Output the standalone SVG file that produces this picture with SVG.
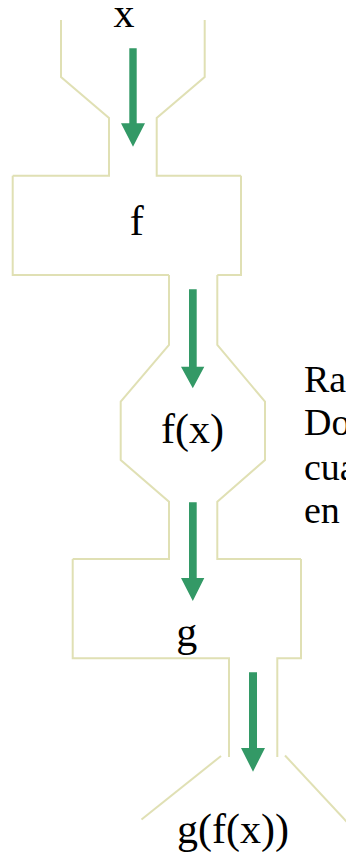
<svg xmlns="http://www.w3.org/2000/svg" width="346" height="858" viewBox="0 0 346 858">
<style>
.ln{fill:none;stroke:#e0e0b4;stroke-width:2;stroke-linejoin:miter}
.ar{fill:#339966}
text{font-family:'Liberation Serif','Times New Roman',serif;fill:#000}
.t{font-size:42px;text-anchor:middle}
.side{font-size:38px}
</style>
<rect width="346" height="858" fill="#fff"/>
<g id="input">
<polyline class="ln" points="61,20 61,77 109,118 109,175.7 12.7,175.7"/>
<polyline class="ln" points="204.7,20 204.7,77 156.7,118 156.7,175.7 241,175.7"/>
<text class="t" x="124" y="27">x</text>
</g>
<g id="f">
<polyline class="ln" points="12.7,175.7 12.7,275 169,275"/>
<polyline class="ln" points="241,175.7 241,275 217.3,275"/>
<text class="t" x="136.7" y="235">f</text>
</g>
<g id="fx">
<polyline class="ln" points="169,275 169,345 120.7,401.7 120.7,460 169,501.7 169,559 72.7,559"/>
<polyline class="ln" points="217.3,275 217.3,345 265,401.7 265,460 217.3,501.7 217.3,559 301,559"/>
<text class="t" x="192.5" y="443">f(x)</text>
</g>
<g id="g">
<polyline class="ln" points="72.7,559 72.7,658.3 229,658.3 229,757"/>
<polyline class="ln" points="301,559 301,658.3 277.3,658.3 277.3,757"/>
<text class="t" x="186.7" y="646">g</text>
</g>
<g id="output">
<line class="ln" x1="221" y1="756" x2="141.5" y2="819.5"/>
<line class="ln" x1="285" y1="755.5" x2="347" y2="822"/>
<text class="t" x="233" y="843">g(f(x))</text>
</g>
<g id="note">
<text class="side" x="304" y="391.7">Ra</text>
<text class="side" x="304" y="435">Do</text>
<text class="side" x="304" y="480">cua</text>
<text class="side" x="304" y="523">en</text>
</g>
<g id="connectors">
<polygon class="ar" points="129.3,48.3 136.7,48.3 136.7,123.3 145,123.3 133,146.7 121,123.3 129.3,123.3"/>
<polygon class="ar" points="189,289.3 196.7,289.3 196.7,366.7 204.3,366.7 192.8,388.3 181,366.7 189,366.7"/>
<polygon class="ar" points="189,502.3 196.7,502.3 196.7,578 204.3,578 192.8,601 181,578 189,578"/>
<polygon class="ar" points="249,672.3 257,672.3 257,748 265,748 253,771.7 241,748 249,748"/>
</g>
</svg>
